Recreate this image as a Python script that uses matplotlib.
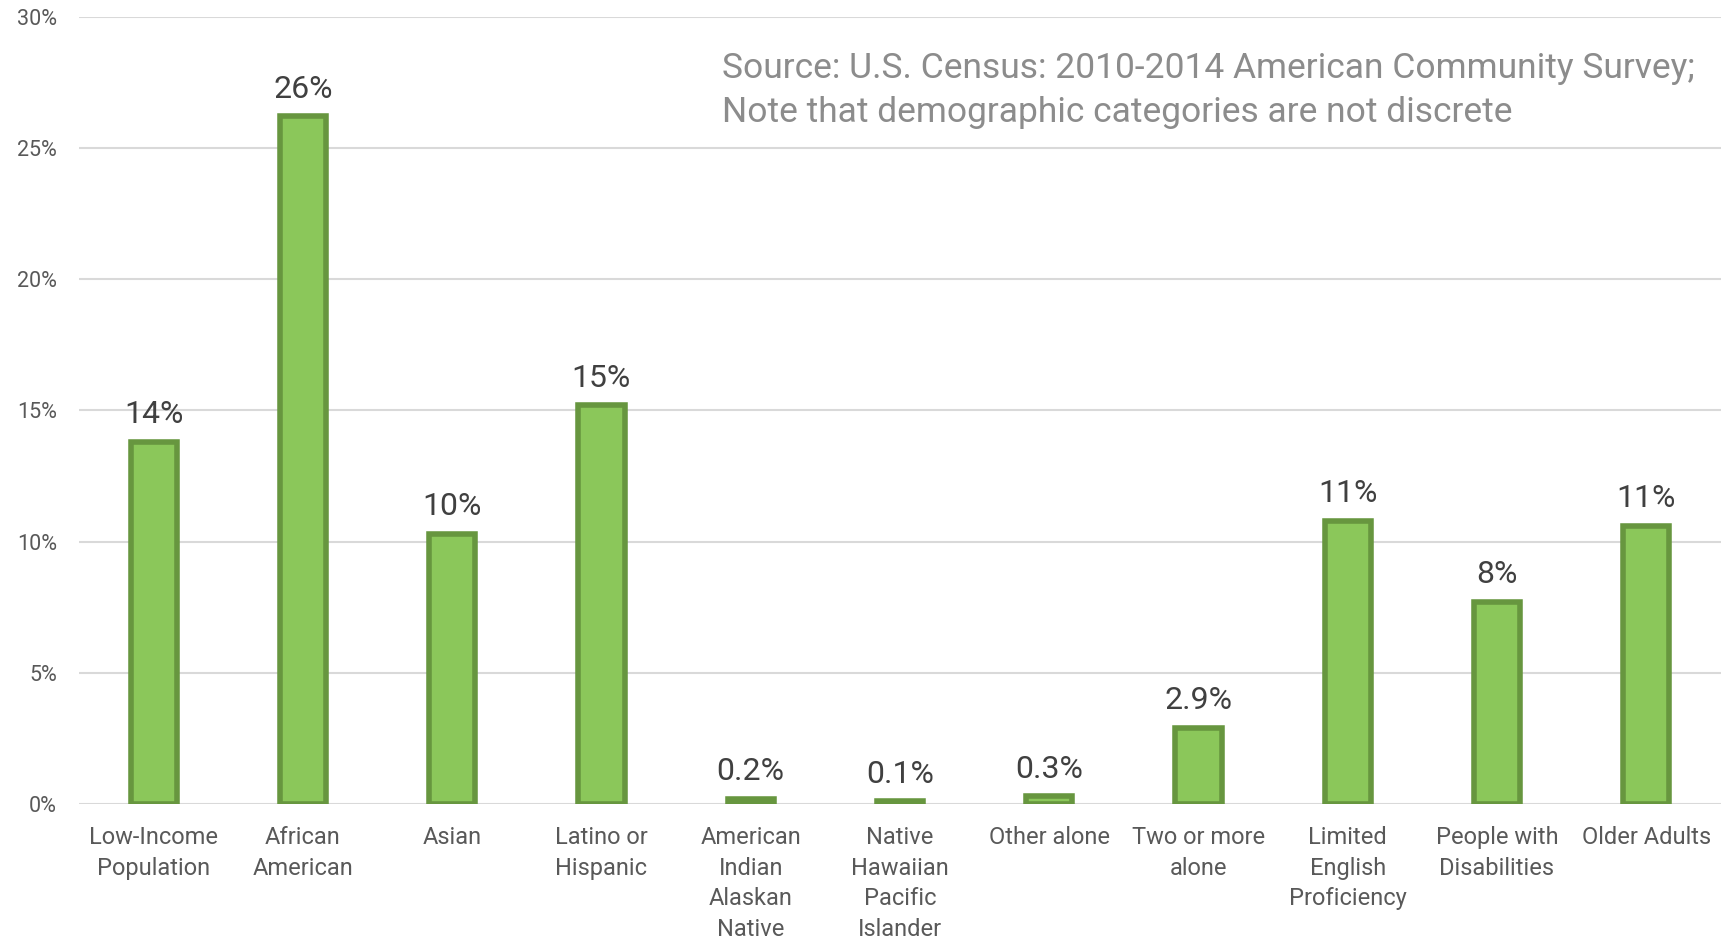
import matplotlib
matplotlib.use("Agg")
import matplotlib.pyplot as plt
from matplotlib.ticker import MultipleLocator, FuncFormatter

# data (percent of population)
categories = [
    "Low-Income\nPopulation", "African\nAmerican", "Asian", "Latino or\nHispanic",
    "American\nIndian\nAlaskan\nNative", "Native\nHawaiian\nPacific\nIslander",
    "Other alone", "Two or more\nalone", "Limited\nEnglish\nProficiency",
    "People with\nDisabilities", "Older Adults",
]
values = [13.8, 26.2, 10.3, 15.2, 0.2, 0.1, 0.3, 2.9, 10.8, 7.7, 10.6]
value_labels = ["14%", "26%", "10%", "15%", "0.2%", "0.1%", "0.3%", "2.9%", "11%", "8%", "11%"]
note = ("Source: U.S. Census: 2010-2014 American Community Survey;\n"
        "Note that demographic categories are not discrete")

plt.rcParams['font.family'] = ['Roboto', 'DejaVu Sans']

fig = plt.figure(figsize=(17.33, 9.4), dpi=100)
ax = fig.add_axes([0.0456, 0.1447, 0.9474, 0.8375])

x = list(range(len(categories)))
ax.bar(x, values, width=0.31, color="#8BC75A", edgecolor="#67963F",
       linewidth=4, zorder=3)

for xi, v, lab in zip(x, values, value_labels):
    ax.annotate(lab, (xi, v), xytext=(0, 9), textcoords="offset points",
                ha="center", va="bottom", fontsize=23, color="#404040")

ax.set_xlim(-0.5, len(categories) - 0.5)
ax.set_ylim(0, 30)
ax.yaxis.set_major_locator(MultipleLocator(5))
ax.yaxis.set_major_formatter(FuncFormatter(lambda v, p: f"{v:.0f}%"))
ax.grid(axis="y", color="#D9D9D9", linewidth=1.5, zorder=0)

ax.set_xticks(x)
ax.set_xticklabels(categories, fontsize=17, color="#595959", linespacing=1.42)
ax.tick_params(axis="x", length=0, pad=16)
ax.tick_params(axis="y", length=0, pad=16, labelsize=15.5, labelcolor="#595959")

for s in ax.spines.values():
    s.set_visible(False)

ax.text(0.3917, 0.955, note, transform=ax.transAxes, fontsize=25.5,
        color="#8C8C8C", ha="left", va="top", linespacing=1.4)

fig.savefig("out.png", dpi=100)
